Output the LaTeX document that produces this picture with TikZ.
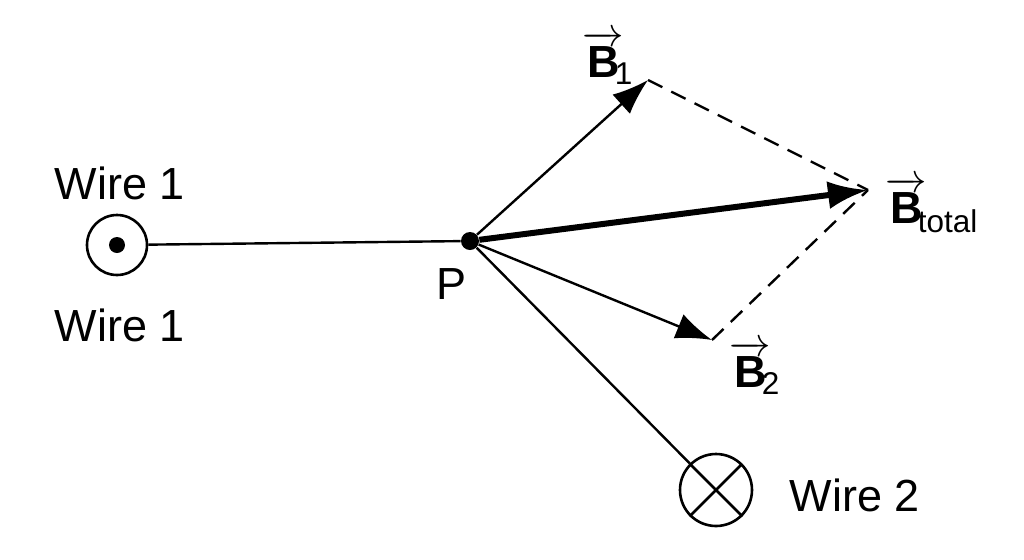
\documentclass[tikz,border=0pt]{standalone}
\usepackage{fontspec}
\usepackage{amsmath}
\setmainfont{Liberation Sans}
\usetikzlibrary{arrows.meta}
\newcommand{\vB}[1]{$\overrightarrow{\text{\textbf{B}}}\mkern-4mu_{\text{#1}}$}
\begin{document}
\begin{tikzpicture}[x=0.5pt,y=-0.5pt,
  lbl/.style={font=\fontsize{22.5}{26}\selectfont,inner sep=0},
  vec/.style={line width=1.2pt,-{Latex[length=18pt,width=13pt]}},
  dashln/.style={line width=1.2pt,dash pattern=on 8pt off 5pt},
  wire/.style={draw,circle,line width=1.3pt}]
\useasboundingbox (0,0) rectangle (1024,559);
\node[wire,minimum size=30pt] (w1) at (117,245) {};
\fill (w1.center) circle (4pt);
\node[circle,fill,inner sep=0,minimum size=9pt] (P) at (470,241) {};
\node[wire,minimum size=36pt] (w2) at (716,490) {};
\draw[line width=1.3pt] (w2.45) -- (w2.225) (w2.135) -- (w2.-45);
\coordinate (b1) at (648,80);
\coordinate (bt) at (868,190);
\coordinate (b2) at (712,340);
\draw[line width=1.2pt] (w1) -- (P);
\draw[line width=1.2pt] (P) -- (w2);
\draw[dashln] (b1) -- (bt) (b2) -- (bt);
\draw[vec] (P) -- (b1);
\draw[vec] (P) -- (b2);
\draw[line width=3pt,-{Latex[length=20pt,width=14pt]}] (P) -- (bt);
\node[lbl] at (120,183) {Wire 1};
\node[lbl] at (120,325) {Wire 1};
\node[lbl] at (855,495) {Wire 2};
\node[lbl] at (452,284) {P};
\node[lbl] at (608,58) {\vB{1}};
\node[lbl] at (932,205) {\vB{total}};
\node[lbl] at (755,368) {\vB{2}};
\end{tikzpicture}
\end{document}
